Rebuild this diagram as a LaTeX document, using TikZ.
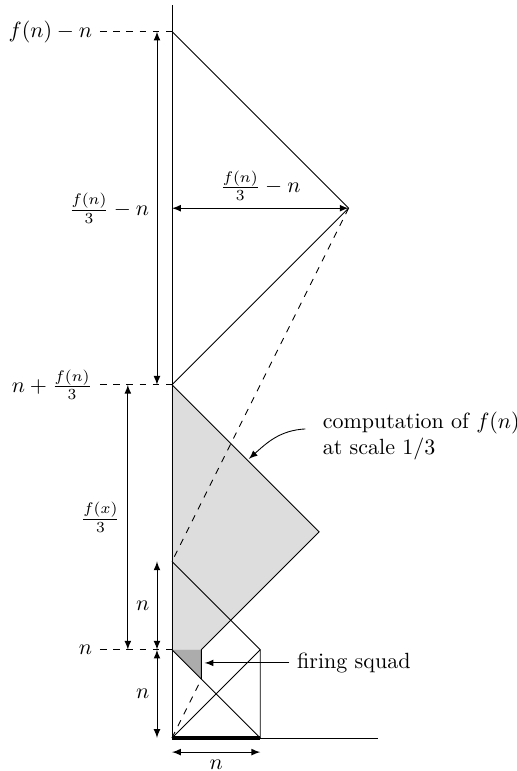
\documentclass[tikz,border=0pt]{standalone}
\usepackage{tikz}
\usetikzlibrary{positioning,calc}
\usepackage{amsmath}

\begin{document}
\begin{tikzpicture}[x=1.41cm,y=1.41cm,>=latex,
  guide/.style={dashed},
  dimline/.style={<->},
  shadelight/.style={fill=gray!27},
  shadedark/.style={fill=gray!65}]
  \useasboundingbox (-1.948,-0.374) rectangle (3.907,8.358);
  \coordinate (O) at (0,0);
  \coordinate (N1) at (0,1);
  \coordinate (N2) at (0,2);
  \coordinate (N4) at (0,4);
  \coordinate (N6) at (0,6);
  \coordinate (N8) at (0,8);
  \coordinate (Top) at (0,8.3);
  \coordinate (End) at (2.33,0);
  \coordinate (T) at (2,6);
  \coordinate (G) at (5/3,7/3);
  \coordinate (F) at (1/3,1);
  \coordinate (FS) at (1/3,2/3);
  \coordinate (B) at (1,0);
  \coordinate (B1) at (1,1);
  % shaded parts
  \path[shadelight] (N4) -- (G) -- (F) -- (N1) -- cycle;
  \path[shadedark] (N1) -- (F) -- (FS) -- cycle;
  \draw (N4) -- (G) -- (F) -- (FS);
  % axes
  \draw (Top) -- (O) -- (End);
  \draw[line width=1.6pt] (O) -- (B);
  \draw (N8) -- (T) -- (N4);
  \draw (N2) -- (B1) -- (B);
  \draw (O) -- (B1);
  \draw (N1) -- (B);
  \draw[guide] (T) -- (N2);
  \draw[guide] (O) -- (FS);
  % levels
  \node (Lfn) [left=1.15cm of N8] {$f(n)-n$};
  \node (Lnf) [left=1.15cm of N4] {$n+\frac{f(n)}{3}$};
  \node (Ln) [left=1.15cm of N1] {$n$};
  \draw[guide] (Lfn) -- (N8);
  \draw[guide] (Lnf) -- (N4);
  \draw[guide] (Ln) -- (N1);
  % dimensions
  \coordinate (a8) at (-0.17,8);
  \coordinate (a4) at (-0.17,4);
  \coordinate (a2) at (-0.17,2);
  \coordinate (a1) at (-0.17,1);
  \coordinate (a0) at (-0.17,0);
  \coordinate (b4) at (-0.5,4);
  \coordinate (b1) at (-0.5,1);
  \coordinate (c0) at (0,-0.16);
  \coordinate (c1) at (1,-0.16);
  \path[dimline]
   (a8) edge node[left] {$\frac{f(n)}{3}-n$} (a4)
   (N6) edge node[above] {$\frac{f(n)}{3}-n$} (T)
   (b4) edge node[left] {$\frac{f(x)}{3}$} (b1)
   (a2) edge node[left] {$n$} (a1)
   (a1) edge node[left] {$n$} (a0)
   (c0) edge node[below] {$n$} (c1);
  % notes
  \node[anchor=west] (FSq) at (1.33,0.85) {firing squad};
  \coordinate (FSt) at (0.37,0.85);
  \draw[->] (FSq) -- (FSt);
  \node[anchor=west,align=left] (Comp) at (1.62,3.42) {computation of $f(n)$\\at scale $1/3$};
  \coordinate (Ct) at (1.51,3.5);
  \coordinate (Ch) at (0.87,3.16);
  \draw[->] (Ct) to[out=183,in=42] (Ch);
\end{tikzpicture}
\end{document}
